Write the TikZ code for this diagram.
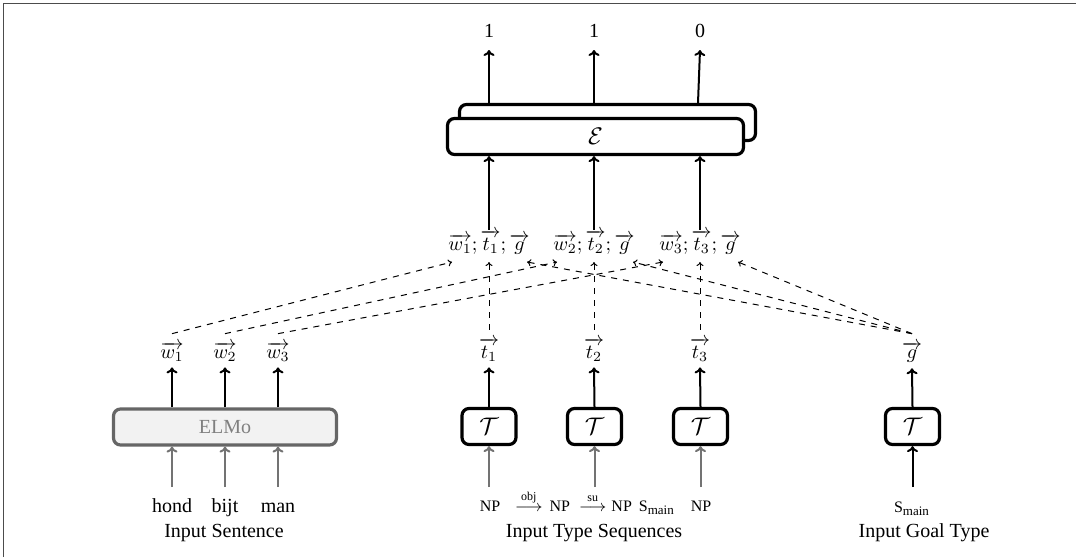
\documentclass[tikz,border=0pt]{standalone}
\usepackage{amsmath}
\usepackage{fontspec}
\setmainfont{Liberation Serif}
\usetikzlibrary{arrows.meta,calc}
\begin{document}
\begin{tikzpicture}[x=0.5pt,y=-0.5pt,
  box/.style={draw, rounded corners=3.5pt, line width=1.6pt, fill=white, inner sep=0pt},
  encbox/.style={box, minimum width=148pt, minimum height=18pt, font=\large},
  tbox/.style={box, minimum width=27pt, minimum height=18pt, font=\large},
  arr/.style={-{To[length=3pt,width=5.5pt]}, line width=1pt},
  garr/.style={arr, draw=black!55},
  darr/.style={-{To[length=2pt,width=3.5pt]}, dashed, line width=0.5pt},
  lbl/.style={inner sep=0pt, anchor=base},
  typ/.style={lbl, font=\footnotesize},
]
\useasboundingbox (0,0) rectangle (1076,557);
\draw[black!70, line width=0.6pt] (3.5,557) -- (3.5,3.5) -- (1076,3.5);

% encoder
\node[encbox] (back) at (607.5,122.5) {};
\node[encbox] (front) at (595.5,136.5) {$\mathcal{E}$};

% outputs
\node[lbl] (o1) at (489,38) {1};
\node[lbl] (o2) at (594,38) {1};
\node[lbl] (o3) at (700,38) {0};
\draw[arr] (back.north -| o1) -- ([yshift=-6pt]o1.base);
\draw[arr] (back.north -| o2) -- ([yshift=-6pt]o2.base);
\draw[arr] ($(back.north -| o3)+(-2,0)$) -- ([yshift=-6pt]o3.base);

% concatenated inputs
\node[lbl] (c1) at (489,250) {$\overrightarrow{w_1};\overrightarrow{t_1};\overrightarrow{g}$};
\node[lbl] (c2) at (594,250) {$\overrightarrow{w_2};\overrightarrow{t_2};\overrightarrow{g}$};
\node[lbl] (c3) at (700,250) {$\overrightarrow{w_3};\overrightarrow{t_3};\overrightarrow{g}$};
\draw[arr] (c1.north) -- (front.south -| c1.north);
\draw[arr] (c2.north) -- (front.south -| c2.north);
\draw[arr] (c3.north) -- (front.south -| c3.north);

\coordinate (inw1) at (452,262);
\coordinate (int1) at (489,262);
\coordinate (ing1) at (527,262);
\coordinate (inw2) at (557,262);
\coordinate (int2) at (594,262);
\coordinate (ing2) at (633,262);
\coordinate (inw3) at (663,262);
\coordinate (int3) at (700,262);
\coordinate (ing3) at (738,262);

% embeddings
\node[lbl] (w1) at (172,358) {$\overrightarrow{w_1}$};
\node[lbl] (w2) at (225,358) {$\overrightarrow{w_2}$};
\node[lbl] (w3) at (278,358) {$\overrightarrow{w_3}$};
\node[lbl] (t1) at (489,358) {$\overrightarrow{t_1}$};
\node[lbl] (t2) at (594,358) {$\overrightarrow{t_2}$};
\node[lbl] (t3) at (700,358) {$\overrightarrow{t_3}$};
\node[lbl] (g) at (912,358) {$\overrightarrow{g}$};

\draw[darr] ([yshift=4pt]w1.north) -- (inw1);
\draw[darr] ([yshift=4pt]w2.north) -- (inw2);
\draw[darr] ([yshift=4pt]w3.north) -- (inw3);
\draw[darr] ([yshift=4pt]t1.north) -- (int1);
\draw[darr] ([yshift=4pt]t2.north) -- (int2);
\draw[darr] ([yshift=4pt]t3.north) -- (int3);
\draw[darr] ([yshift=4pt]g.north) -- (ing1);
\draw[darr] ([yshift=4pt]g.north) -- (ing2);
\draw[darr] ([yshift=4pt]g.north) -- (ing3);

% ELMo and type encoders
\node[box, draw=black!60, fill=black!5, text=black!50, minimum width=111.5pt, minimum height=18pt] (elmo) at (225,427) {ELMo};
\node[tbox] (T1) at (489,426.5) {$\mathcal{T}$};
\node[tbox] (T2) at (594.5,426.5) {$\mathcal{T}$};
\node[tbox] (T3) at (700.5,426.5) {$\mathcal{T}$};
\node[tbox] (T4) at (912.5,426.5) {$\mathcal{T}$};

\draw[arr] (elmo.north -| w1) -- ([yshift=-3pt]w1.south);
\draw[arr] (elmo.north -| w2) -- ([yshift=-3pt]w2.south);
\draw[arr] (elmo.north -| w3) -- ([yshift=-3pt]w3.south);
\draw[arr] (T1.north) -- ([yshift=-3pt]t1.south);
\draw[arr] (T2.north) -- ([yshift=-3pt]t2.south);
\draw[arr] (T3.north) -- ([yshift=-3pt]t3.south);
\draw[arr] (T4.north) -- ([yshift=-3pt]g.south);

% inputs
\node[lbl] (i1) at (172,512) {hond};
\node[lbl] (i2) at (225,512) {bijt};
\node[lbl] (i3) at (278,512) {man};
\draw[garr] ($(i1.base)+(0,-25)$) -- (elmo.south -| i1);
\draw[garr] ($(i2.base)+(0,-25)$) -- (elmo.south -| i2);
\draw[garr] ($(i3.base)+(0,-25)$) -- (elmo.south -| i3);

\node[typ] (s1) at (490,511) {NP};
\node[typ] (s2) at (595,511) {$\overset{\text{obj}}{\longrightarrow}$\hspace{3.5pt}NP\hspace{4.5pt}$\overset{\text{su}}{\longrightarrow}$\hspace{2.5pt}NP\hspace{3.5pt}S\textsubscript{\fontsize{6.5}{7}\selectfont main}};
\node[typ] (s3) at (701,511) {NP};
\node[typ] (gs) at (912,512) {S\textsubscript{\fontsize{6.5}{7}\selectfont main}};
\draw[garr] ($(T1.south |- s1.base)+(0,-24)$) -- (T1.south);
\draw[garr] ($(T2.south |- s2.base)+(0,-24)$) -- (T2.south);
\draw[garr] ($(T3.south |- s3.base)+(0,-24)$) -- (T3.south);
\draw[arr] ($(T4.south |- gs.base)+(0,-25)$) -- (T4.south);

% captions
\node[lbl] (cap1) at (224,537) {Input Sentence};
\node[lbl] (cap2) at (594,537) {Input Type Sequences};
\node[lbl] (cap3) at (924,537) {Input Goal Type};
\end{tikzpicture}
\end{document}
